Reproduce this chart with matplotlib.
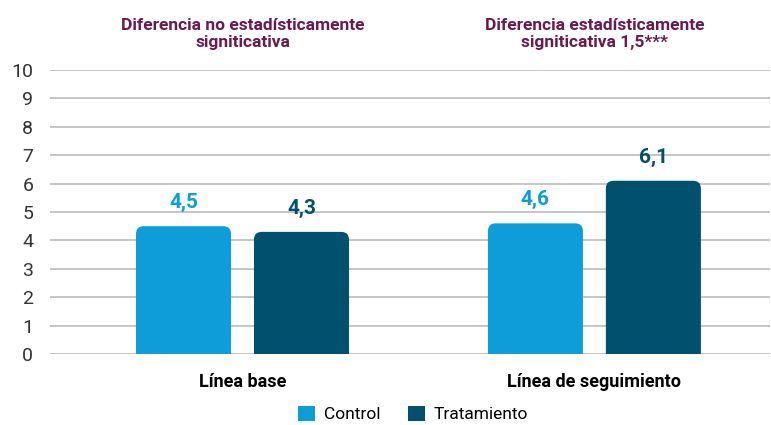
import numpy as np
import matplotlib
matplotlib.use("Agg")
import matplotlib.pyplot as plt
from matplotlib.patches import FancyBboxPatch, Patch

plt.rcParams['font.family'] = ['Roboto', 'DejaVu Sans']

groups = ['Línea base', 'Línea de seguimiento']
titles = ['Diferencia no estadísticamente\nsigniticativa', 'Diferencia estadísticamente\nsigniticativa 1,5***']
series = ['Control', 'Tratamiento']
control = [4.5, 4.6]
tratamiento = [4.3, 6.1]
colors = ['#0e9dd9', '#00506e']
title_color = '#6b1a4f'

fig = plt.figure(figsize=(7.71, 4.25), dpi=100)
ax = fig.add_axes([50/771, 1-354/425, 720/771, 284/425])

x = np.arange(len(groups))
width = 0.27
offset = 0.1676
ax.set_xlim(-0.547, 1.499)
ax.set_ylim(0, 10)

# px per data unit, for round corners
aspect = (720/2.046) / (284/10)
for vals, off, col in [(control, -offset, colors[0]), (tratamiento, offset, colors[1])]:
    for xi, v in zip(x, vals):
        p = FancyBboxPatch((xi+off-width/2, -1), width, v+1,
                           boxstyle='round,pad=0,rounding_size=0.022',
                           mutation_aspect=aspect, fc=col, ec='none', zorder=3)
        ax.add_patch(p)
        ax.text(xi+off, v+0.5, f'{v:.1f}'.replace('.', ','), ha='center', va='bottom',
                color=col, fontsize=15, fontweight='bold')

ax.set_yticks(range(0, 11))
ax.yaxis.grid(True, color='#bbbbbb', lw=1.2)
ax.set_axisbelow(True)
for s in ax.spines.values():
    s.set_visible(False)
ax.tick_params(axis='y', length=0, labelsize=14, labelcolor='#333333', pad=12)
ax.set_xticks(x)
ax.set_xticklabels(groups, fontsize=13, fontweight='bold')
ax.tick_params(axis='x', length=0, pad=14)

for xi, t in zip(x, titles):
    ax.text(xi, 1.07, t, transform=ax.get_xaxis_transform(), ha='center', va='bottom',
            color=title_color, fontsize=12.5, fontweight='bold', linespacing=1.15)

handles = [Patch(fc=c, ec='none') for c in colors]
fig.legend(handles, series, loc='center', bbox_to_anchor=(413/771, 1-414/425), ncol=2,
           frameon=False, fontsize=12.5, handlelength=1.0, handleheight=1.0,
           handletextpad=0.5, columnspacing=1.6)

fig.savefig('out.png', dpi=100)
